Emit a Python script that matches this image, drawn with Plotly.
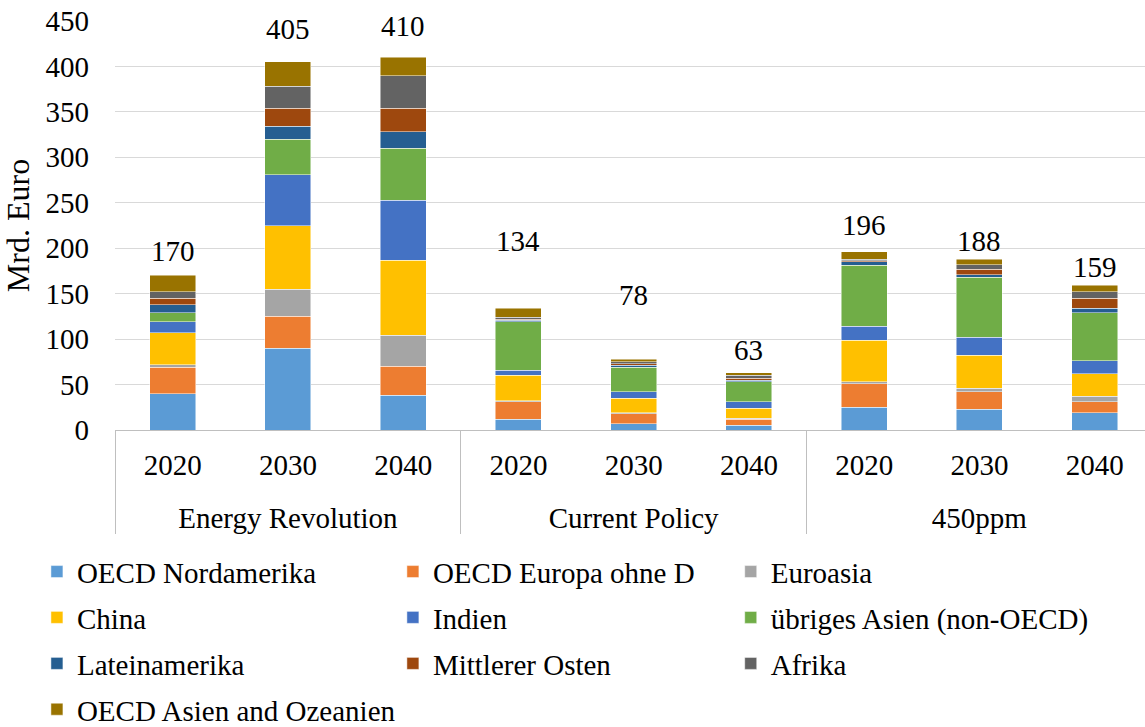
import plotly.graph_objects as go

SCENARIOS = ["Energy Revolution"] * 3 + ["Current Policy"] * 3 + ["450ppm"] * 3
YEARS = ["2020", "2030", "2040"] * 3

REGIONS = [
    "OECD Nordamerika",
    "OECD Europa ohne D",
    "Euroasia",
    "China",
    "Indien",
    "übriges Asien (non-OECD)",
    "Lateinamerika",
    "Mittlerer Osten",
    "Afrika",
    "OECD Asien and Ozeanien",
]

oecd_nordamerika = [40, 90, 38, 12, 7, 5, 25, 23, 19]
oecd_europa = [29, 35, 32, 19, 11, 7, 26, 19, 12]
euroasia = [3, 30, 34, 1, 1, 1, 2, 4, 6]
china = [35, 70, 83, 28, 16, 11, 46, 36, 25]
indien = [12, 56, 66, 6, 7, 7, 15, 20, 14]
uebriges_asien = [10, 39, 57, 53, 27, 22, 67, 66, 53]
lateinamerika = [9, 14, 18, 2, 2, 2, 4, 3, 5]
mittlerer_osten = [7, 20, 26, 1, 2, 2, 1, 6, 11]
afrika = [7, 24, 36, 2, 2, 3, 2, 5, 7]
oecd_asien = [18, 27, 20, 10, 3, 3, 8, 6, 7]

TOTALS = [170, 405, 410, 134, 78, 63, 196, 188, 159]
# height (in Mrd. Euro) at which each total label sits in the original
LABEL_Y = [197, 441, 444, 208, 149, 88, 226, 208, 179]

SERIES = [oecd_nordamerika, oecd_europa, euroasia, china, indien,
          uebriges_asien, lateinamerika, mittlerer_osten, afrika, oecd_asien]

COLORS = ["#5B9BD5", "#ED7D31", "#A5A5A5", "#FFC000", "#4472C4",
          "#70AD47", "#255E91", "#9E480E", "#636363", "#997300"]

FONT = "Liberation Serif, Times New Roman, serif"
FS = 29

# legend grid: 3 columns, 4 rows (each entry gets its own legend box)
COL_X = [-0.0758, 0.2698, 0.5978]
ROW_Y = [-0.3465, -0.4585, -0.571, -0.683]


def big(s):
    # axis tick font is kept smaller so the blank spacer line stays short
    return f"<span style='font-size:{FS}px'>{s}</span>"


x_outer = ["<br>" + big(s) for s in SCENARIOS]
x_inner = [big(y) for y in YEARS]

fig = go.Figure()
for k, (name, vals, color) in enumerate(zip(REGIONS, SERIES, COLORS)):
    fig.add_trace(go.Bar(
        x=[x_outer, x_inner],
        y=vals,
        name=name,
        marker=dict(color=color, line=dict(color="rgba(255,255,255,0.6)", width=0.8)),
        legend="legend" if k == 0 else f"legend{k + 1}",
        showlegend=True,
    ))

for i, (total, ly) in enumerate(zip(TOTALS, LABEL_Y)):
    fig.add_annotation(
        x=i, y=ly, text=str(total), showarrow=False,
        yanchor="middle",
        font=dict(family=FONT, size=FS, color="#000000"),
    )

legends = {}
for k in range(len(REGIONS)):
    key = "legend" if k == 0 else f"legend{k + 1}"
    legends[key] = dict(
        orientation="h",
        x=COL_X[k % 3],
        y=ROW_Y[k // 3],
        xanchor="left",
        yanchor="middle",
        bgcolor="rgba(0,0,0,0)",
        font=dict(family=FONT, size=FS, color="#000000"),
    )

fig.update_layout(
    width=1145,
    height=727,
    barmode="stack",
    bargap=0.6,
    showlegend=True,
    paper_bgcolor="#FFFFFF",
    plot_bgcolor="#FFFFFF",
    margin=dict(l=115, r=0, t=21, b=297, autoexpand=False),
    font=dict(family=FONT, size=FS, color="#000000"),
    **legends,
)

fig.update_yaxes(
    range=[0, 450],
    dtick=50,
    automargin=False,
    showgrid=True,
    gridcolor="#D9D9D9",
    gridwidth=1,
    zeroline=False,
    showline=False,
    ticks="",
    ticklabelstandoff=25,
    tickfont=dict(family=FONT, size=FS, color="#000000"),
    title=dict(text="Mrd. Euro", font=dict(family=FONT, size=32, color="#000000"), standoff=12),
)

fig.update_xaxes(
    range=[-0.5, 8.437],
    automargin=False,
    showline=True,
    linecolor="#BFBFBF",
    linewidth=1,
    showdividers=True,
    dividercolor="#BFBFBF",
    dividerwidth=1,
    ticks="",
    ticklabelstandoff=14,
    tickfont=dict(family=FONT, size=25, color="#000000"),
)

# drop the browser's default body margin so the figure sits at the page corner
fig.write_html(
    "out.html",
    config={"displayModeBar": False},
    post_script="document.body.style.margin='0';",
)
